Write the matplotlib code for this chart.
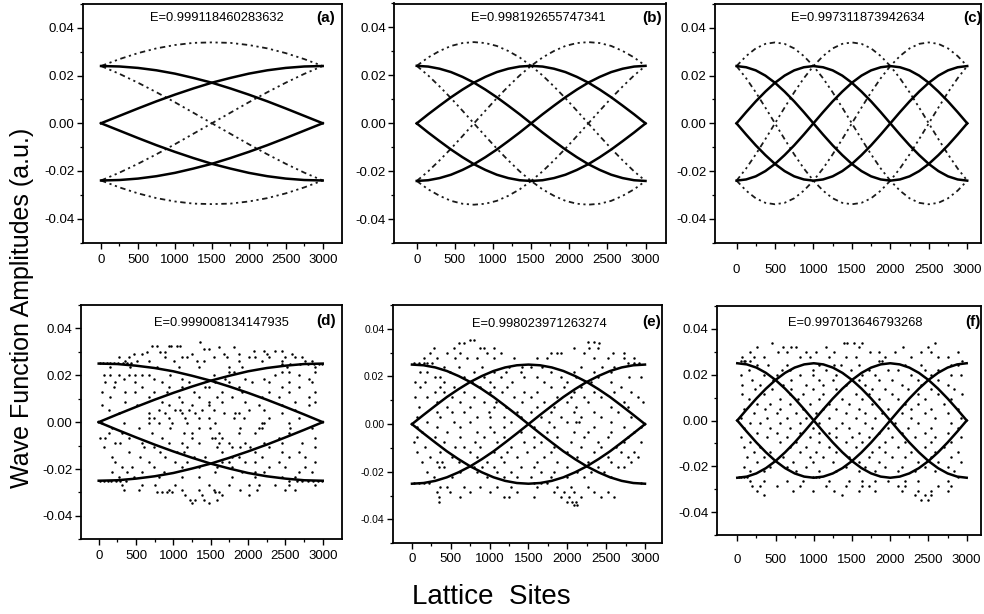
import matplotlib
matplotlib.use('Agg')
import matplotlib.pyplot as plt
from matplotlib.ticker import FixedLocator

plt.rcParams['font.family'] = ['Liberation Sans', 'DejaVu Sans']
plt.rcParams['axes.unicode_minus'] = False

# ---------------- data ----------------
energies = ["E=0.999118460283632", "E=0.998192655747341", "E=0.997311873942634",
            "E=0.999008134147935", "E=0.998023971263274", "E=0.997013646793268"]
letters = ["(a)", "(b)", "(c)", "(d)", "(e)", "(f)"]

sites_q = [0, 250, 500, 750, 1000, 1250, 1500, 1750, 2000, 2250, 2500, 2750, 3000]
sites_h = [0, 150, 300, 450, 600, 750, 900, 1050, 1200, 1350, 1500, 1650, 1800, 1950,
           2100, 2250, 2400, 2550, 2700, 2850, 3000]
sites_t = [0, 125, 250, 375, 500, 625, 750, 875, 1000, 1125, 1250, 1375, 1500, 1625,
           1750, 1875, 2000, 2125, 2250, 2375, 2500, 2625, 2750, 2875, 3000]

# panel (a)
a_solid_1 = [0.0240, 0.0238, 0.0232, 0.0222, 0.0208, 0.0190, 0.0170, 0.0146, 0.0120, 0.0092, 0.0062, 0.0031, 0.0000]
a_solid_2 = [0.0000, 0.0031, 0.0062, 0.0092, 0.0120, 0.0146, 0.0170, 0.0190, 0.0208, 0.0222, 0.0232, 0.0238, 0.0240]
a_solid_3 = [-0.0240, -0.0238, -0.0232, -0.0222, -0.0208, -0.0190, -0.0170, -0.0146, -0.0120, -0.0092, -0.0062, -0.0031, 0.0000]
a_solid_4 = [0.0000, -0.0031, -0.0062, -0.0092, -0.0120, -0.0146, -0.0170, -0.0190, -0.0208, -0.0222, -0.0232, -0.0238, -0.0240]
a_dot_1 = [0.0240, 0.0269, 0.0294, 0.0314, 0.0328, 0.0337, 0.0339, 0.0337, 0.0328, 0.0314, 0.0294, 0.0269, 0.0240]
a_dot_2 = [-0.0240, -0.0269, -0.0294, -0.0314, -0.0328, -0.0337, -0.0339, -0.0337, -0.0328, -0.0314, -0.0294, -0.0269, -0.0240]
a_dot_3 = [0.0240, 0.0207, 0.0170, 0.0130, 0.0088, 0.0044, 0.0000, -0.0044, -0.0088, -0.0130, -0.0170, -0.0207, -0.0240]
a_dot_4 = [-0.0240, -0.0207, -0.0170, -0.0130, -0.0088, -0.0044, 0.0000, 0.0044, 0.0088, 0.0130, 0.0170, 0.0207, 0.0240]

# panel (b)
b_solid_1 = [0.0240, 0.0237, 0.0228, 0.0214, 0.0194, 0.0170, 0.0141, 0.0109, 0.0074, 0.0038, 0.0000, -0.0038, -0.0074, -0.0109, -0.0141, -0.0170, -0.0194, -0.0214, -0.0228, -0.0237, -0.0240]
b_solid_2 = [0.0000, 0.0038, 0.0074, 0.0109, 0.0141, 0.0170, 0.0194, 0.0214, 0.0228, 0.0237, 0.0240, 0.0237, 0.0228, 0.0214, 0.0194, 0.0170, 0.0141, 0.0109, 0.0074, 0.0038, 0.0000]
b_solid_3 = [-0.0240, -0.0237, -0.0228, -0.0214, -0.0194, -0.0170, -0.0141, -0.0109, -0.0074, -0.0038, 0.0000, 0.0038, 0.0074, 0.0109, 0.0141, 0.0170, 0.0194, 0.0214, 0.0228, 0.0237, 0.0240]
b_solid_4 = [0.0000, -0.0038, -0.0074, -0.0109, -0.0141, -0.0170, -0.0194, -0.0214, -0.0228, -0.0237, -0.0240, -0.0237, -0.0228, -0.0214, -0.0194, -0.0170, -0.0141, -0.0109, -0.0074, -0.0038, 0.0000]
b_dot_1 = [0.0240, 0.0275, 0.0302, 0.0323, 0.0335, 0.0339, 0.0335, 0.0323, 0.0302, 0.0275, 0.0240, 0.0200, 0.0154, 0.0105, 0.0053, 0.0000, -0.0053, -0.0105, -0.0154, -0.0200, -0.0240]
b_dot_2 = [-0.0240, -0.0275, -0.0302, -0.0323, -0.0335, -0.0339, -0.0335, -0.0323, -0.0302, -0.0275, -0.0240, -0.0200, -0.0154, -0.0105, -0.0053, 0.0000, 0.0053, 0.0105, 0.0154, 0.0200, 0.0240]
b_dot_3 = [0.0240, 0.0200, 0.0154, 0.0105, 0.0053, 0.0000, -0.0053, -0.0105, -0.0154, -0.0200, -0.0240, -0.0275, -0.0302, -0.0323, -0.0335, -0.0339, -0.0335, -0.0323, -0.0302, -0.0275, -0.0240]
b_dot_4 = [-0.0240, -0.0200, -0.0154, -0.0105, -0.0053, 0.0000, 0.0053, 0.0105, 0.0154, 0.0200, 0.0240, 0.0275, 0.0302, 0.0323, 0.0335, 0.0339, 0.0335, 0.0323, 0.0302, 0.0275, 0.0240]

# panel (c)
c_solid_1 = [0.0240, 0.0235, 0.0222, 0.0200, 0.0170, 0.0133, 0.0092, 0.0047, 0.0000, -0.0047, -0.0092, -0.0133, -0.0170, -0.0200, -0.0222, -0.0235, -0.0240, -0.0235, -0.0222, -0.0200, -0.0170, -0.0133, -0.0092, -0.0047, 0.0000]
c_solid_2 = [0.0000, 0.0047, 0.0092, 0.0133, 0.0170, 0.0200, 0.0222, 0.0235, 0.0240, 0.0235, 0.0222, 0.0200, 0.0170, 0.0133, 0.0092, 0.0047, 0.0000, -0.0047, -0.0092, -0.0133, -0.0170, -0.0200, -0.0222, -0.0235, -0.0240]
c_solid_3 = [-0.0240, -0.0235, -0.0222, -0.0200, -0.0170, -0.0133, -0.0092, -0.0047, 0.0000, 0.0047, 0.0092, 0.0133, 0.0170, 0.0200, 0.0222, 0.0235, 0.0240, 0.0235, 0.0222, 0.0200, 0.0170, 0.0133, 0.0092, 0.0047, 0.0000]
c_solid_4 = [0.0000, -0.0047, -0.0092, -0.0133, -0.0170, -0.0200, -0.0222, -0.0235, -0.0240, -0.0235, -0.0222, -0.0200, -0.0170, -0.0133, -0.0092, -0.0047, 0.0000, 0.0047, 0.0092, 0.0133, 0.0170, 0.0200, 0.0222, 0.0235, 0.0240]
c_dot_1 = [0.0240, 0.0282, 0.0314, 0.0333, 0.0339, 0.0333, 0.0314, 0.0282, 0.0240, 0.0189, 0.0130, 0.0066, 0.0000, -0.0066, -0.0130, -0.0189, -0.0240, -0.0282, -0.0314, -0.0333, -0.0339, -0.0333, -0.0314, -0.0282, -0.0240]
c_dot_2 = [-0.0240, -0.0282, -0.0314, -0.0333, -0.0339, -0.0333, -0.0314, -0.0282, -0.0240, -0.0189, -0.0130, -0.0066, 0.0000, 0.0066, 0.0130, 0.0189, 0.0240, 0.0282, 0.0314, 0.0333, 0.0339, 0.0333, 0.0314, 0.0282, 0.0240]
c_dot_3 = [0.0240, 0.0189, 0.0130, 0.0066, 0.0000, -0.0066, -0.0130, -0.0189, -0.0240, -0.0282, -0.0314, -0.0333, -0.0339, -0.0333, -0.0314, -0.0282, -0.0240, -0.0189, -0.0130, -0.0066, 0.0000, 0.0066, 0.0130, 0.0189, 0.0240]
c_dot_4 = [-0.0240, -0.0189, -0.0130, -0.0066, 0.0000, 0.0066, 0.0130, 0.0189, 0.0240, 0.0282, 0.0314, 0.0333, 0.0339, 0.0333, 0.0314, 0.0282, 0.0240, 0.0189, 0.0130, 0.0066, 0.0000, -0.0066, -0.0130, -0.0189, -0.0240]

# panel (d)
d_solid_1 = [0.0250, 0.0248, 0.0241, 0.0231, 0.0217, 0.0198, 0.0177, 0.0152, 0.0125, 0.0096, 0.0065, 0.0033, 0.0000]
d_solid_2 = [0.0000, 0.0033, 0.0065, 0.0096, 0.0125, 0.0152, 0.0177, 0.0198, 0.0217, 0.0231, 0.0241, 0.0248, 0.0250]
d_solid_3 = [-0.0250, -0.0248, -0.0241, -0.0231, -0.0217, -0.0198, -0.0177, -0.0152, -0.0125, -0.0096, -0.0065, -0.0033, 0.0000]
d_solid_4 = [0.0000, -0.0033, -0.0065, -0.0096, -0.0125, -0.0152, -0.0177, -0.0198, -0.0217, -0.0231, -0.0241, -0.0248, -0.0250]

# panel (e)
e_solid_1 = [0.0250, 0.0247, 0.0238, 0.0223, 0.0202, 0.0177, 0.0147, 0.0114, 0.0077, 0.0039, 0.0000, -0.0039, -0.0077, -0.0114, -0.0147, -0.0177, -0.0202, -0.0223, -0.0238, -0.0247, -0.0250]
e_solid_2 = [0.0000, 0.0039, 0.0077, 0.0114, 0.0147, 0.0177, 0.0202, 0.0223, 0.0238, 0.0247, 0.0250, 0.0247, 0.0238, 0.0223, 0.0202, 0.0177, 0.0147, 0.0114, 0.0077, 0.0039, 0.0000]
e_solid_3 = [-0.0250, -0.0247, -0.0238, -0.0223, -0.0202, -0.0177, -0.0147, -0.0114, -0.0077, -0.0039, 0.0000, 0.0039, 0.0077, 0.0114, 0.0147, 0.0177, 0.0202, 0.0223, 0.0238, 0.0247, 0.0250]
e_solid_4 = [0.0000, -0.0039, -0.0077, -0.0114, -0.0147, -0.0177, -0.0202, -0.0223, -0.0238, -0.0247, -0.0250, -0.0247, -0.0238, -0.0223, -0.0202, -0.0177, -0.0147, -0.0114, -0.0077, -0.0039, 0.0000]

# panel (f)
f_solid_1 = [0.0250, 0.0245, 0.0231, 0.0208, 0.0177, 0.0139, 0.0096, 0.0049, 0.0000, -0.0049, -0.0096, -0.0139, -0.0177, -0.0208, -0.0231, -0.0245, -0.0250, -0.0245, -0.0231, -0.0208, -0.0177, -0.0139, -0.0096, -0.0049, 0.0000]
f_solid_2 = [0.0000, 0.0049, 0.0096, 0.0139, 0.0177, 0.0208, 0.0231, 0.0245, 0.0250, 0.0245, 0.0231, 0.0208, 0.0177, 0.0139, 0.0096, 0.0049, 0.0000, -0.0049, -0.0096, -0.0139, -0.0177, -0.0208, -0.0231, -0.0245, -0.0250]
f_solid_3 = [-0.0250, -0.0245, -0.0231, -0.0208, -0.0177, -0.0139, -0.0096, -0.0049, 0.0000, 0.0049, 0.0096, 0.0139, 0.0177, 0.0208, 0.0231, 0.0245, 0.0250, 0.0245, 0.0231, 0.0208, 0.0177, 0.0139, 0.0096, 0.0049, 0.0000]
f_solid_4 = [0.0000, -0.0049, -0.0096, -0.0139, -0.0177, -0.0208, -0.0231, -0.0245, -0.0250, -0.0245, -0.0231, -0.0208, -0.0177, -0.0139, -0.0096, -0.0049, 0.0000, 0.0049, 0.0096, 0.0139, 0.0177, 0.0208, 0.0231, 0.0245, 0.0250]

# scattered points of the disordered cases, as (amplitude, [sites...]) rows
dots_d = [
    (0.0340, [1362]),
    (0.0326, [714, 781, 937, 973, 1049, 1094]),
    (0.0319, [1607, 1808]),
    (0.0312, [1406, 1473]),
    (0.0305, [2076, 2210, 2366, 2455]),
    (0.0298, [647, 826, 893]),
    (0.0291, [469, 580, 1250, 1674, 1875, 2254, 2589]),
    (0.0277, [268, 402, 893, 1116, 1183, 1540, 1719, 2009, 2098, 2277, 2500, 2634, 2723]),
    (0.0263, [357, 513, 670, 1004, 1317, 1406, 1875, 2187, 2455, 2768, 2857]),
    (0.0253, [20, 60, 110, 150, 200, 260, 320, 380, 430]),
    (0.0247, [2450, 2560, 2700, 2800, 2880, 2950, 2990]),
    (0.0235, [156, 424, 781, 1071, 1339, 1741, 1920, 2522, 2902]),
    (0.0214, [1741, 1808, 2455, 2544, 2902]),
    (0.0200, [67, 156, 268, 402, 491, 580, 670, 960, 1540, 2366, 2678]),
    (0.0186, [335, 737, 1116, 1696, 1964, 2210, 2812]),
    (0.0172, [89, 223, 491, 848, 1205, 1562, 1741, 2053, 2277, 2544, 2857]),
    (0.0151, [201, 580, 937, 1116, 1429, 1473, 1875, 2455, 2678]),
    (0.0130, [45, 357, 491, 737, 915, 1272, 1652, 1920, 2277, 2544, 2902]),
    (0.0109, [156, 670, 1071, 1339, 1585, 1786, 2187, 2411, 2812]),
    (0.0088, [357, 848, 1116, 1473, 1652, 1964, 2634, 2902]),
    (0.0074, [45, 513, 937, 1250, 1473, 2143, 2455, 2812]),
    (0.0053, [134, 804, 1027, 1094, 1205, 1384, 1540, 2009, 2210, 2634]),
    (0.0039, [268, 670, 893, 1116, 1295, 1674, 1830, 1875, 2455]),
    (0.0018, [670, 737, 937, 1161, 1339, 1473, 1808, 1942, 2277, 2678]),
    (-0.0003, [45, 335, 670, 804, 982, 1183, 1562, 2187, 2210, 2544]),
    (-0.0024, [179, 536, 960, 1339, 1495, 1897, 2143, 2187, 2567, 2857]),
    (-0.0045, [134, 312, 714, 1138, 1250, 1607, 1875, 2098, 2544]),
    (-0.0066, [22, 89, 402, 848, 1250, 1518, 1562, 1652, 2411, 2902]),
    (-0.0087, [223, 290, 580, 937, 1116, 1339, 1607, 1741, 1964, 2210, 2455, 2723]),
    (-0.0108, [67, 603, 737, 1183, 1585, 1786, 1897, 2031, 2277, 2902]),
    (-0.0129, [402, 826, 1049, 1138, 1652, 2098, 2455, 2678]),
    (-0.0150, [179, 558, 893, 1272, 1429, 1786, 1875, 2187, 2544, 2768]),
    (-0.0171, [223, 670, 1027, 1183, 1652, 1741, 1964, 2098, 2411, 2902]),
    (-0.0192, [312, 446, 737, 1116, 1339, 1585, 1786, 2277, 2500, 2768]),
    (-0.0213, [179, 379, 580, 870, 1562, 1920, 2098, 2210, 2678, 2857]),
    (-0.0234, [268, 469, 804, 1116, 1339, 1786, 2098, 2455, 2634]),
    (-0.0252, [20, 70, 120, 170, 230, 290, 360, 2550, 2650, 2720, 2800, 2870, 2940, 2990]),
    (-0.0269, [312, 580, 759, 1027, 1473, 1741, 2009, 2143, 2366, 2544, 2902]),
    (-0.0290, [335, 536, 937, 1116, 1339, 1540, 1897, 2120, 2500, 2634]),
    (-0.0297, [781, 848, 915, 982, 1562, 1607]),
    (-0.0311, [1161, 1384, 1652, 2009]),
    (-0.0332, [1228, 1295, 1406, 1585]),
    (-0.0346, [1250, 1473]),
]

dots_e = [
    (0.0353, [753, 796]),
    (0.0346, [2260, 2346]),
    (0.0339, [603, 667, 2410]),
    (0.0318, [280, 538, 882, 925, 1054, 2087, 2281, 2389]),
    (0.0297, [237, 452, 624, 968, 1141, 1786, 1872, 1915, 2217, 2582, 2733]),
    (0.0276, [151, 323, 560, 710, 839, 1054, 1313, 1614, 1743, 2346, 2518, 2733, 2862]),
    (0.0258, [22, 86, 151, 194, 258, 2776, 2862, 2927]),
    (0.0241, [409, 603, 904, 1248, 1420, 1528, 1679, 2173, 2453, 2604]),
    (0.0220, [108, 194, 495, 796, 1054, 1205, 1399, 1786, 2087, 2346, 2561]),
    (0.0199, [301, 366, 667, 925, 1141, 1442, 1614, 1915, 2109, 2389, 2798, 2948]),
    (0.0178, [43, 172, 409, 775, 1011, 1291, 1700, 2001, 2303, 2561]),
    (0.0157, [108, 366, 538, 882, 1054, 1227, 1786, 1958, 2173, 2690]),
    (0.0136, [301, 409, 667, 1011, 1162, 1442, 1614, 2087, 2346, 2604, 2819]),
    (0.0115, [43, 194, 516, 796, 1313, 1528, 1872, 2044, 2217, 2432, 2905]),
    (0.0094, [323, 624, 925, 1076, 1420, 1700, 2001, 2260, 2733, 2970]),
    (0.0073, [86, 452, 753, 1054, 1205, 1614, 1829, 2109, 2561, 2776]),
    (0.0052, [323, 516, 667, 990, 1356, 1528, 1786, 2087, 2346, 2647]),
    (0.0031, [65, 366, 839, 1011, 1184, 1399, 1657, 1915, 2173, 2432, 2819]),
    (0.0010, [194, 538, 753, 1270, 1765, 2001, 2109, 2152, 2561]),
    (-0.0011, [65, 323, 624, 1011, 1184, 1571, 1829, 2346, 2733, 2948]),
    (-0.0032, [129, 452, 839, 1054, 1399, 1743, 2087, 2260, 2561, 2862]),
    (-0.0053, [65, 301, 624, 925, 1184, 1571, 1872, 2217, 2518, 2776]),
    (-0.0074, [22, 409, 818, 1098, 1442, 1657, 2044, 2389, 2733, 2948]),
    (-0.0095, [172, 560, 667, 882, 1270, 1571, 1829, 2173, 2432, 2625]),
    (-0.0116, [65, 366, 753, 1054, 1227, 1485, 1786, 2001, 2346, 2690, 2862]),
    (-0.0137, [237, 516, 839, 1141, 1356, 1700, 2130, 2518, 2776, 2905]),
    (-0.0158, [129, 323, 387, 603, 968, 1184, 1614, 1872, 2260, 2561, 2819]),
    (-0.0179, [344, 409, 796, 904, 1054, 1399, 1571, 2001, 2389, 2647, 2733]),
    (-0.0200, [194, 624, 839, 1098, 1270, 1657, 1829, 2130, 2303, 2475]),
    (-0.0221, [280, 516, 968, 1184, 1356, 1528, 1786, 2001, 2217, 2561]),
    (-0.0246, [22, 86, 151, 215, 1571, 1657, 1743, 2948]),
    (-0.0263, [366, 452, 667, 882, 1098, 1270, 1614, 1872, 2044, 2260]),
    (-0.0284, [323, 495, 753, 1011, 1356, 1829, 1958, 2087, 2346, 2518]),
    (-0.0305, [344, 624, 1184, 1248, 1571, 1915, 2023, 2173, 2432, 2604]),
    (-0.0326, [344, 2001, 2066, 2109]),
    (-0.0340, [2087, 2130]),
]

dots_f = [
    (0.0340, [451, 1397, 1440, 1526, 1633, 2579]),
    (0.0319, [258, 602, 709, 774, 1160, 1590, 2170, 2493]),
    (0.0298, [172, 537, 645, 903, 1032, 1268, 1741, 1848, 2063, 2407, 2536, 2880]),
    (0.0277, [64, 215, 344, 817, 946, 1203, 1418, 1547, 1934, 2278, 2622, 2751]),
    (0.0260, [43, 86, 107, 172, 1848, 1891, 2944]),
    (0.0242, [258, 408, 645, 1075, 1268, 1354, 1590, 2192, 2407, 2794, 2880]),
    (0.0221, [150, 580, 688, 989, 1160, 1483, 1719, 1977, 2106, 2450, 2622]),
    (0.0199, [43, 344, 516, 817, 989, 1289, 1633, 1805, 2278, 2536, 2794, 2923]),
    (0.0178, [193, 473, 709, 1075, 1246, 1590, 1848, 2020, 2364, 2622]),
    (0.0157, [64, 301, 602, 903, 1117, 1418, 1676, 2149, 2407, 2751]),
    (0.0136, [236, 451, 709, 989, 1289, 1762, 1934, 2235, 2536, 2837]),
    (0.0115, [64, 344, 688, 860, 1117, 1547, 1719, 2020, 2364, 2622, 2944]),
    (0.0094, [150, 559, 795, 1075, 1375, 1633, 1848, 2106, 2450, 2794]),
    (0.0073, [258, 430, 688, 946, 1203, 1461, 1762, 2192, 2364, 2708]),
    (0.0052, [86, 365, 559, 860, 1117, 1289, 1590, 1977, 2278, 2536, 2880]),
    (0.0031, [215, 516, 774, 1032, 1418, 1676, 1891, 2149, 2450, 2751]),
    (0.0010, [43, 387, 645, 903, 1203, 1547, 1805, 2278, 2579, 2923]),
    (-0.0011, [172, 301, 559, 817, 1075, 1375, 1676, 2063, 2364, 2794]),
    (-0.0032, [86, 430, 688, 989, 1289, 1461, 1762, 1977, 2235, 2536, 2880]),
    (-0.0053, [258, 516, 817, 1075, 1203, 1590, 1848, 2149, 2450, 2751]),
    (-0.0074, [43, 387, 645, 946, 1289, 1504, 1719, 2020, 2321, 2579, 2923]),
    (-0.0096, [172, 559, 774, 1075, 1418, 1633, 1934, 2192, 2536, 2794]),
    (-0.0117, [86, 301, 688, 903, 1203, 1547, 1848, 2106, 2450, 2708]),
    (-0.0138, [215, 430, 817, 1032, 1289, 1762, 1934, 2278, 2579, 2880]),
    (-0.0159, [129, 344, 602, 946, 1117, 1461, 1719, 2020, 2192, 2536, 2794]),
    (-0.0180, [258, 731, 989, 1246, 1590, 1848, 2364, 2622, 2923]),
    (-0.0201, [86, 430, 645, 903, 1418, 1676, 1934, 2149, 2450, 2751]),
    (-0.0222, [172, 344, 774, 1075, 1289, 1590, 1805, 2106, 2321, 2579, 2837]),
    (-0.0246, [21, 43, 86, 129, 989, 1032, 1075, 2880]),
    (-0.0264, [172, 344, 645, 860, 1203, 1461, 1633, 1805, 1977, 2192, 2364, 2751]),
    (-0.0285, [193, 301, 516, 817, 1160, 1418, 1633, 1719, 2106, 2192, 2622, 2794]),
    (-0.0306, [258, 731, 989, 1268, 1590, 1805, 2149, 2364, 2536, 2751]),
    (-0.0327, [344, 1375, 2321, 2450, 2536]),
    (-0.0348, [2407, 2493]),
]

x_ticks = [0, 500, 1000, 1500, 2000, 2500, 3000]
y_ticks = [-0.04, -0.02, 0.00, 0.02, 0.04]
y_tick_labels = ["-0.04", "-0.02", "0.00", "0.02", "0.04"]

# ---------------- layout ----------------
W, H = 984, 614
fig = plt.figure(figsize=(W / 100, H / 100), dpi=100)

panels = [
    dict(rect=(82.7, 4, 341.7, 242.5), xlim=(-248, 3257), sites=sites_q,
         solid=[a_solid_1, a_solid_2, a_solid_3, a_solid_4],
         dotted=[a_dot_1, a_dot_2, a_dot_3, a_dot_4], dots=None,
         etxt=(1570, 0.0440), ltxt=(3045, 0.0440), xpad=4, yfs=9.5),
    dict(rect=(394.3, 3.5, 665.5, 243.3), xlim=(-294, 3262), sites=sites_h,
         solid=[b_solid_1, b_solid_2, b_solid_3, b_solid_4],
         dotted=[b_dot_1, b_dot_2, b_dot_3, b_dot_4], dots=None,
         etxt=(1600, 0.0440), ltxt=(3084, 0.0440), xpad=4, yfs=9.5),
    dict(rect=(715, 4, 981, 242.7), xlim=(-280, 3179), sites=sites_t,
         solid=[c_solid_1, c_solid_2, c_solid_3, c_solid_4],
         dotted=[c_dot_1, c_dot_2, c_dot_3, c_dot_4], dots=None,
         etxt=(1578, 0.0440), ltxt=(3067, 0.0440), xpad=11, yfs=9.5),
    dict(rect=(80.7, 305, 341.7, 539.3), xlim=(-241, 3254), sites=sites_q,
         solid=[d_solid_1, d_solid_2, d_solid_3, d_solid_4],
         dotted=[], dots=dots_d,
         etxt=(1638, 0.0425), ltxt=(3040, 0.0430), xpad=4, yfs=9.5),
    dict(rect=(392.7, 305, 662.3, 543.3), xlim=(-248, 3223), sites=sites_h,
         solid=[e_solid_1, e_solid_2, e_solid_3, e_solid_4],
         dotted=[], dots=dots_e,
         etxt=(1635, 0.0422), ltxt=(3080, 0.0430), xpad=3, yfs=7.5),
    dict(rect=(716.7, 306, 981, 535), xlim=(-269, 3187), sites=sites_t,
         solid=[f_solid_1, f_solid_2, f_solid_3, f_solid_4],
         dotted=[], dots=dots_f,
         etxt=(1539, 0.0424), ltxt=(3082, 0.0430), xpad=10, yfs=9.5),
]

for i, p in enumerate(panels):
    L, T, R, B = p['rect']
    ax = fig.add_axes([L / W, 1 - B / H, (R - L) / W, (B - T) / H])
    ax.set_xlim(*p['xlim'])
    ax.set_ylim(-0.05, 0.05)
    for spine in ax.spines.values():
        spine.set_linewidth(1.3)
    if p['dots'] is not None:
        xs = [x for y, row in p['dots'] for x in row]
        ys = [y for y, row in p['dots'] for x in row]
        ax.scatter(xs, ys, s=3.2, color='black', linewidths=0, zorder=2)
    for ycurve in p['dotted']:
        ax.plot(p['sites'], ycurve, color='0.1', lw=1.3,
                dashes=(3, 2, 1.2, 2, 1.2, 2), zorder=2)
    for ycurve in p['solid']:
        ax.plot(p['sites'], ycurve, color='black', lw=1.8, zorder=3)
    ax.set_xticks(x_ticks)
    ax.xaxis.set_minor_locator(FixedLocator([250, 750, 1250, 1750, 2250, 2750]))
    ax.set_yticks(y_ticks)
    ax.set_yticklabels(y_tick_labels)
    ax.yaxis.set_minor_locator(FixedLocator([-0.05, -0.03, -0.01, 0.01, 0.03, 0.05]))
    ax.tick_params(which='major', direction='out', length=4, width=1.0,
                   top=False, right=False)
    ax.tick_params(which='minor', direction='out', length=2.5, width=0.9,
                   top=False, right=False)
    ax.tick_params(axis='x', labelsize=9.5, pad=p['xpad'])
    ax.tick_params(axis='y', labelsize=p['yfs'], pad=2)
    ax.text(p['etxt'][0], p['etxt'][1], energies[i], ha='center', va='center',
            fontsize=9.3)
    ax.text(p['ltxt'][0], p['ltxt'][1], letters[i], ha='center', va='center',
            fontsize=11, fontweight='bold')

fig.text(22 / W, 1 - 308 / H, "Wave Function Amplitudes (a.u.)", rotation=90,
         ha='center', va='center', fontsize=18)
fig.text(491 / W, 1 - 597 / H, "Lattice  Sites", ha='center', va='center',
         fontsize=20)

fig.savefig('out.png', dpi=100)
